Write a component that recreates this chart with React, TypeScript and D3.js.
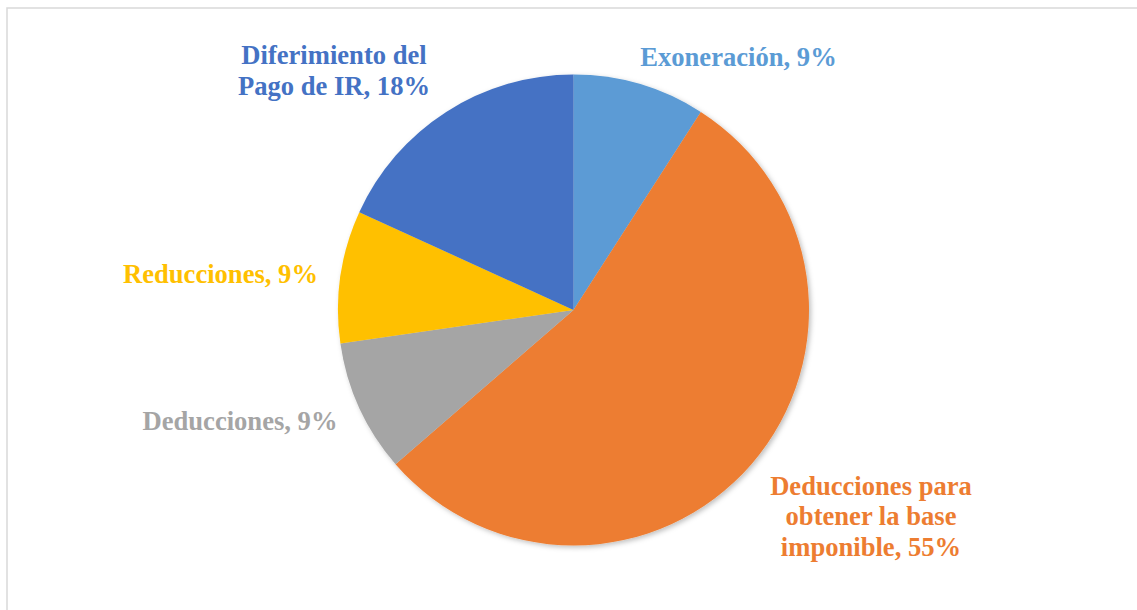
import React from "react";
import * as d3 from "d3";

const categories = [
  "Exoneración",
  "Deducciones para obtener la base imponible",
  "Deducciones",
  "Reducciones",
  "Diferimiento del Pago de IR",
];
const values = [1, 6, 1, 1, 2];
const percentLabels = ["9%", "55%", "9%", "9%", "18%"];
const colors = ["#5B9BD5", "#ED7D31", "#A5A5A5", "#FFC000", "#4472C4"];
const labelLines = [
  ["Exoneración, 9%"],
  ["Deducciones para", "obtener la base", "imponible, 55%"],
  ["Deducciones, 9%"],
  ["Reducciones, 9%"],
  ["Diferimiento del", "Pago de IR, 18%"],
];
const labelPos = [
  { x: 738.5, y: 66 },
  { x: 871, y: 494.5 },
  { x: 240, y: 430 },
  { x: 220.5, y: 283 },
  { x: 334, y: 64 },
];

const W = 1137;
const H = 610;
const cx = 573.5;
const cy = 310;
const R = 235.5;

export default function App() {
  const pie = d3
    .pie<number>()
    .sort(null)
    .value((d) => d)
    .startAngle(0)
    .endAngle(2 * Math.PI);
  const arcs = pie(values);
  const arcGen = d3.arc<d3.PieArcDatum<number>>().innerRadius(0).outerRadius(R);

  return (
    <svg
      width={W}
      height={H}
      style={{ position: "absolute", left: 0, top: 0, display: "block" }}
    >
      <defs>
        <filter id="sh" x="-10%" y="-10%" width="120%" height="120%">
          <feDropShadow dx="2" dy="2" stdDeviation="2.5" floodColor="#000" floodOpacity="0.25" />
        </filter>
      </defs>
      <rect x={0} y={0} width={W} height={H} fill="#fff" />
      <rect x={7} y={8} width={W + 20} height={H + 20} fill="none" stroke="#D9D9D9" strokeWidth={1.5} />
      <g transform={`translate(${cx},${cy})`} filter="url(#sh)">
        {arcs.map((a, i) => (
          <path key={categories[i]} d={arcGen(a) || ""} fill={colors[i]} />
        ))}
      </g>
      {labelLines.map((lines, i) => (
        <text
          key={i}
          x={labelPos[i].x}
          y={labelPos[i].y}
          textAnchor="middle"
          fill={colors[i]}
          style={{ fontFamily: '"Liberation Serif", "Times New Roman", serif', fontWeight: 700, fontSize: "26.6px" }}
        >
          {lines.map((l, j) => (
            <tspan key={j} x={labelPos[i].x} dy={j === 0 ? 0 : 30.5}>
              {l}
            </tspan>
          ))}
        </text>
      ))}
      <desc>{percentLabels.join(",")}</desc>
    </svg>
  );
}
